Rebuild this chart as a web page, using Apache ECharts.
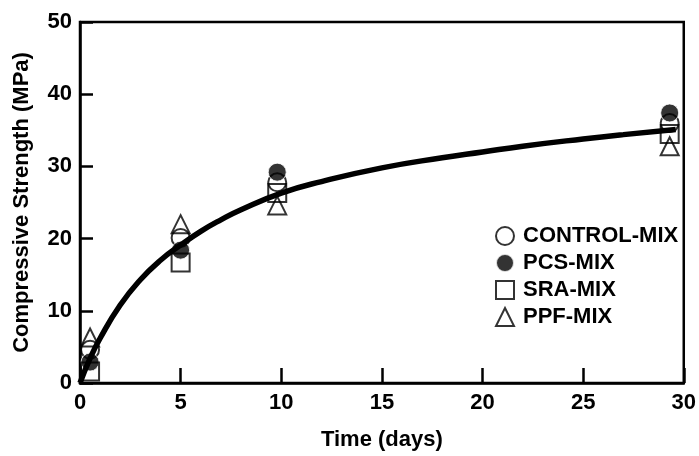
<!DOCTYPE html>
<html>
<head>
<meta charset="utf-8">
<script src="https://cdn.jsdelivr.net/npm/echarts@6/dist/echarts.min.js"></script>
<style>
	html, body { margin: 0; padding: 0; background: #fff; }
	#chart1 { width: 699px; height: 456px; }
</style>
</head>
<body>
<div id="chart1"></div>
<script>
// test ages (days) and strengths (MPa)
var days = [0.5, 5, 9.8, 29.3];
var controlMix = [4.6, 20.1, 27.8, 36.0];
var pcsMix = [2.9, 18.4, 29.2, 37.4];
var sraMix = [1.6, 16.7, 26.3, 34.5];
var ppfMix = [6.3, 22.0, 24.6, 32.8];

// fitted trend line
var fitDays = [0, 0.5, 1, 2, 3, 4, 5, 6, 7, 8, 10, 12, 15, 18, 20, 22, 25, 27, 29.6];
var fitStrength = [0, 3.4, 6.2, 10.8, 14.3, 17.0, 19.1, 21.0, 22.6, 24.0, 26.3, 27.9, 29.8, 31.2, 32.0, 32.8, 33.8, 34.4, 35.1];

var xTicks = [0, 5, 10, 15, 20, 25, 30];
var yTicks = [0, 10, 20, 30, 40, 50];

var font = "'Liberation Sans', Arial, sans-serif";

function pairs(xs, ys) {
	var out = [];
	for (var i = 0; i < xs.length; i++) out.push([xs[i], ys[i]]);
	return out;
}

var chart = echarts.init(document.getElementById("chart1"));

// marker style for the hollow symbols
function hollow(name, symbol, size, ys) {
	return {
		type: "scatter",
		name: name,
		symbol: symbol,
		symbolSize: size,
		data: pairs(days, ys),
		itemStyle: { color: "rgba(255,255,255,0)", borderColor: "#000", borderWidth: 2 },
		z: 3
	};
}

var option = {
	animation: false,
	backgroundColor: "#fff",
	textStyle: { fontFamily: font },
	grid: {
		left: 80, right: 14, top: 22, bottom: 73,
		show: true, borderColor: "#000", borderWidth: 2.5
	},
	legend: {
		orient: "vertical",
		left: 495, top: 225,
		padding: 0,
		itemWidth: 18, itemHeight: 18, itemGap: 5,
		textStyle: { fontFamily: font, fontWeight: "bold", fontSize: 22, lineHeight: 18, color: "#000", padding: [0, 0, 0, 4] },
		data: ["CONTROL-MIX", "PCS-MIX", "SRA-MIX", "PPF-MIX"]
	},
	xAxis: {
		type: "value",
		min: xTicks[0], max: xTicks[xTicks.length - 1], interval: 5,
		name: "Time (days)", nameLocation: "middle", nameGap: 46,
		nameTextStyle: { fontFamily: font, fontWeight: "bold", fontSize: 22, color: "#000" },
		axisLine: { lineStyle: { color: "#000", width: 2.5 } },
		axisTick: { inside: true, length: 15, lineStyle: { color: "#000", width: 2.5 } },
		axisLabel: { fontFamily: font, fontWeight: "bold", fontSize: 22, color: "#000", margin: 9 },
		splitLine: { show: false }
	},
	yAxis: {
		type: "value",
		min: yTicks[0], max: yTicks[yTicks.length - 1], interval: 10,
		name: "Compressive Strength (MPa)", nameLocation: "middle", nameGap: 47,
		nameTextStyle: { fontFamily: font, fontWeight: "bold", fontSize: 22, color: "#000" },
		axisLine: { lineStyle: { color: "#000", width: 2.5 } },
		axisTick: { inside: true, length: 13, lineStyle: { color: "#000", width: 2.5 } },
		axisLabel: { fontFamily: font, fontWeight: "bold", fontSize: 22, color: "#000", margin: 8 },
		splitLine: { show: false }
	},
	series: [
		hollow("CONTROL-MIX", "circle", 18, controlMix),
		{
			type: "scatter",
			name: "PCS-MIX",
			symbol: "circle",
			symbolSize: 18,
			data: pairs(days, pcsMix),
			itemStyle: { color: "#000", borderColor: "#fff", borderWidth: 1 },
			z: 3
		},
		hollow("SRA-MIX", "rect", 18, sraMix),
		hollow("PPF-MIX", "triangle", 18, ppfMix),
		{
			type: "line",
			name: "fit",
			smooth: true,
			showSymbol: false,
			data: pairs(fitDays, fitStrength),
			lineStyle: { color: "#000", width: 5.5 },
			z: 4
		}
	]
};

window.onload = function () {
	chart.setOption(option);
};
</script>
</body>
</html>
